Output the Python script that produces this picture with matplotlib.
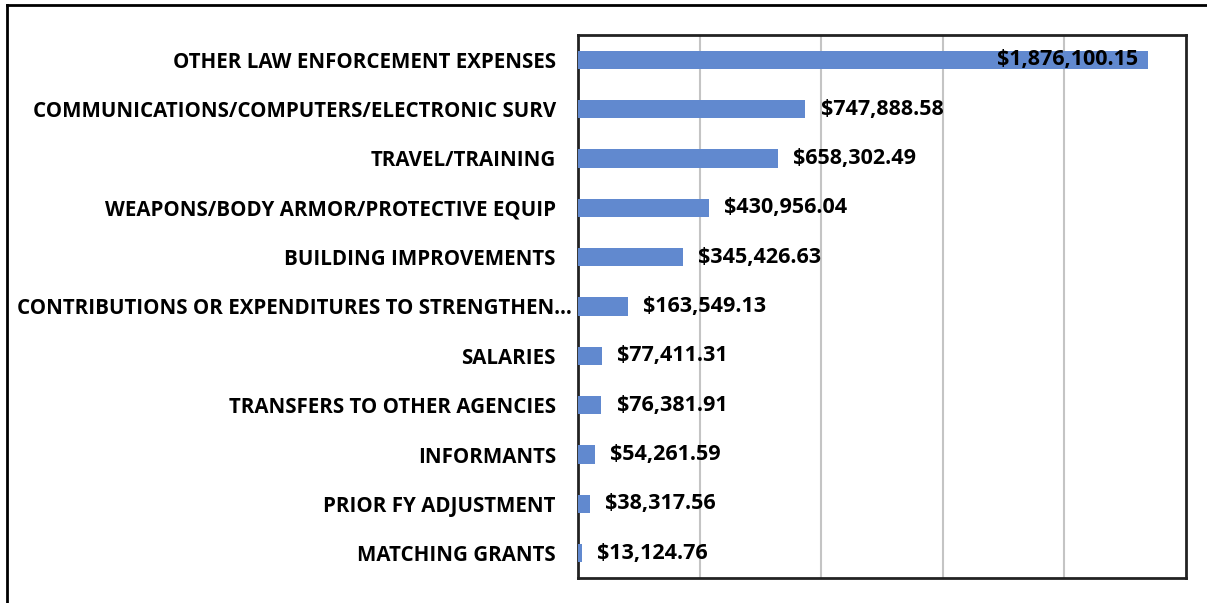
import matplotlib
matplotlib.use("Agg")
import matplotlib.pyplot as plt
from matplotlib.lines import Line2D
from matplotlib.transforms import ScaledTranslation

categories = [
    "OTHER LAW ENFORCEMENT EXPENSES",
    "COMMUNICATIONS/COMPUTERS/ELECTRONIC SURV",
    "TRAVEL/TRAINING",
    "WEAPONS/BODY ARMOR/PROTECTIVE EQUIP",
    "BUILDING IMPROVEMENTS",
    "CONTRIBUTIONS OR EXPENDITURES TO STRENGTHEN\u2026",
    "SALARIES",
    "TRANSFERS TO OTHER AGENCIES",
    "INFORMANTS",
    "PRIOR FY ADJUSTMENT",
    "MATCHING GRANTS",
]
amounts = [1876100.15, 747888.58, 658302.49, 430956.04, 345426.63,
           163549.13, 77411.31, 76381.91, 54261.59, 38317.56, 13124.76]

plt.rcParams['font.family'] = ['Open Sans', 'DejaVu Sans']

fig = plt.figure(figsize=(12.07, 6.03), dpi=100)
ax = fig.add_axes([0.4789, 0.0415, 0.9826 - 0.4789, 0.942 - 0.0415])

ypos = list(range(len(categories)))[::-1]
ax.barh(ypos, amounts, height=0.37, color='#6189cf', zorder=3)

ax.set_xlim(0, 2000000)
ax.set_ylim(-0.5, len(categories) - 0.5)
ax.set_xticks([400000, 800000, 1200000, 1600000])
ax.xaxis.grid(True, color='#c4c4c4', linewidth=1.5, zorder=0)
ax.tick_params(axis='x', length=0, labelbottom=False)
ax.tick_params(axis='y', length=0, pad=16)
ax.set_yticks(ypos)
ax.set_yticklabels(categories, fontsize=14.8, fontweight='bold')

# truncated label sits closer to the axis, like Excel does
for t in ax.get_yticklabels():
    if t.get_text().endswith("\u2026"):
        t.set_transform(t.get_transform() + ScaledTranslation(0.16, 0, fig.dpi_scale_trans))

for s in ax.spines.values():
    s.set_color('#222222')
    s.set_linewidth(2)

for y, v in zip(ypos, amounts):
    lbl = "${:,.2f}".format(v)
    if v > 1500000:
        ax.annotate(lbl, (v, y), xytext=(-7, 0), textcoords='offset points',
                    ha='right', va='center', fontsize=15.5, fontweight='bold', zorder=4)
    else:
        ax.annotate(lbl, (v, y), xytext=(11, 0), textcoords='offset points',
                    ha='left', va='center', fontsize=15.5, fontweight='bold', zorder=4)

# outer border (top and left visible)
fig.add_artist(Line2D([7 / 1207, 1.0], [1 - 5 / 603, 1 - 5 / 603],
                      transform=fig.transFigure, color='black', linewidth=2))
fig.add_artist(Line2D([7 / 1207, 7 / 1207], [0.0, 1 - 5 / 603],
                      transform=fig.transFigure, color='black', linewidth=2))

fig.savefig("out.png", dpi=100)
